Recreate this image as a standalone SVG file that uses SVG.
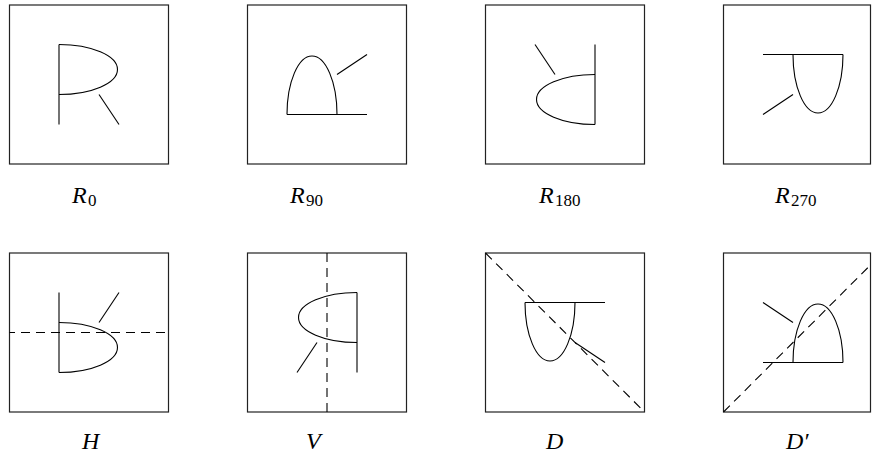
<svg xmlns="http://www.w3.org/2000/svg" xmlns:xlink="http://www.w3.org/1999/xlink" width="872" height="454" viewBox="0 0 872 454">
<style>
.frame{fill:none;stroke:#222;stroke-width:1.2}
.g{fill:none;stroke:#000;stroke-width:1.1}
.axis{fill:none;stroke:#000;stroke-width:1.1;stroke-dasharray:9 6}
.lbl{font-family:"Liberation Serif","Times New Roman",serif;font-size:24px;font-style:italic;fill:#000}
.sub{font-style:normal;font-size:17px}
</style>
<defs>
<g id="glyph">
<path class="g" d="M -30,-40 V 40"/>
<path class="g" d="M -30,-40 A 58.5 25 0 0 1 -30,10"/>
<path class="g" d="M 10,10 L 30,40"/>
</g>
</defs>
<g id="r0">
<rect class="frame" x="9.5" y="5" width="159" height="159"/>
<use xlink:href="#glyph" transform="matrix(1,0,0,1,89,84.5)"/>
<text class="lbl" x="72" y="203">R<tspan class="sub" x="88" y="206">0</tspan></text>
</g>
<g id="r90">
<rect class="frame" x="247.5" y="5" width="159" height="159"/>
<use xlink:href="#glyph" transform="matrix(0,-1,1,0,327,84.5)"/>
<text class="lbl" x="290" y="203">R<tspan class="sub" x="306" y="206">90</tspan></text>
</g>
<g id="r180">
<rect class="frame" x="485.5" y="5" width="159" height="159"/>
<use xlink:href="#glyph" transform="matrix(-1,0,0,-1,565,84.5)"/>
<text class="lbl" x="539" y="203">R<tspan class="sub" x="555" y="206">180</tspan></text>
</g>
<g id="r270">
<rect class="frame" x="723.5" y="5" width="147" height="159"/>
<use xlink:href="#glyph" transform="matrix(0,1,-1,0,803,84.5)"/>
<text class="lbl" x="775" y="203">R<tspan class="sub" x="791" y="206">270</tspan></text>
</g>
<g id="h">
<rect class="frame" x="9.5" y="253" width="159" height="159"/>
<line class="axis" x1="9.5" y1="332.5" x2="168.5" y2="332.5" stroke-dashoffset="3.5"/>
<use xlink:href="#glyph" transform="matrix(1,0,0,-1,89,332.5)"/>
<text class="lbl" x="82" y="449">H</text>
</g>
<g id="v">
<rect class="frame" x="247.5" y="253" width="159" height="159"/>
<line class="axis" x1="327" y1="253" x2="327" y2="412"/>
<use xlink:href="#glyph" transform="matrix(-1,0,0,1,327,332.5)"/>
<text class="lbl" x="306" y="449">V</text>
</g>
<g id="d">
<rect class="frame" x="485.5" y="253" width="159" height="159"/>
<line class="axis" x1="485.5" y1="253" x2="644.5" y2="412"/>
<use xlink:href="#glyph" transform="matrix(0,1,1,0,565,332.5)"/>
<text class="lbl" x="546" y="449">D</text>
</g>
<g id="dprime">
<rect class="frame" x="723.5" y="253" width="147" height="159"/>
<line class="axis" x1="723.5" y1="412" x2="870.5" y2="265"/>
<use xlink:href="#glyph" transform="matrix(0,-1,-1,0,803,332.5)"/>
<text class="lbl" x="786" y="449">D′</text>
</g>
<g id="connectors"/>
</svg>
